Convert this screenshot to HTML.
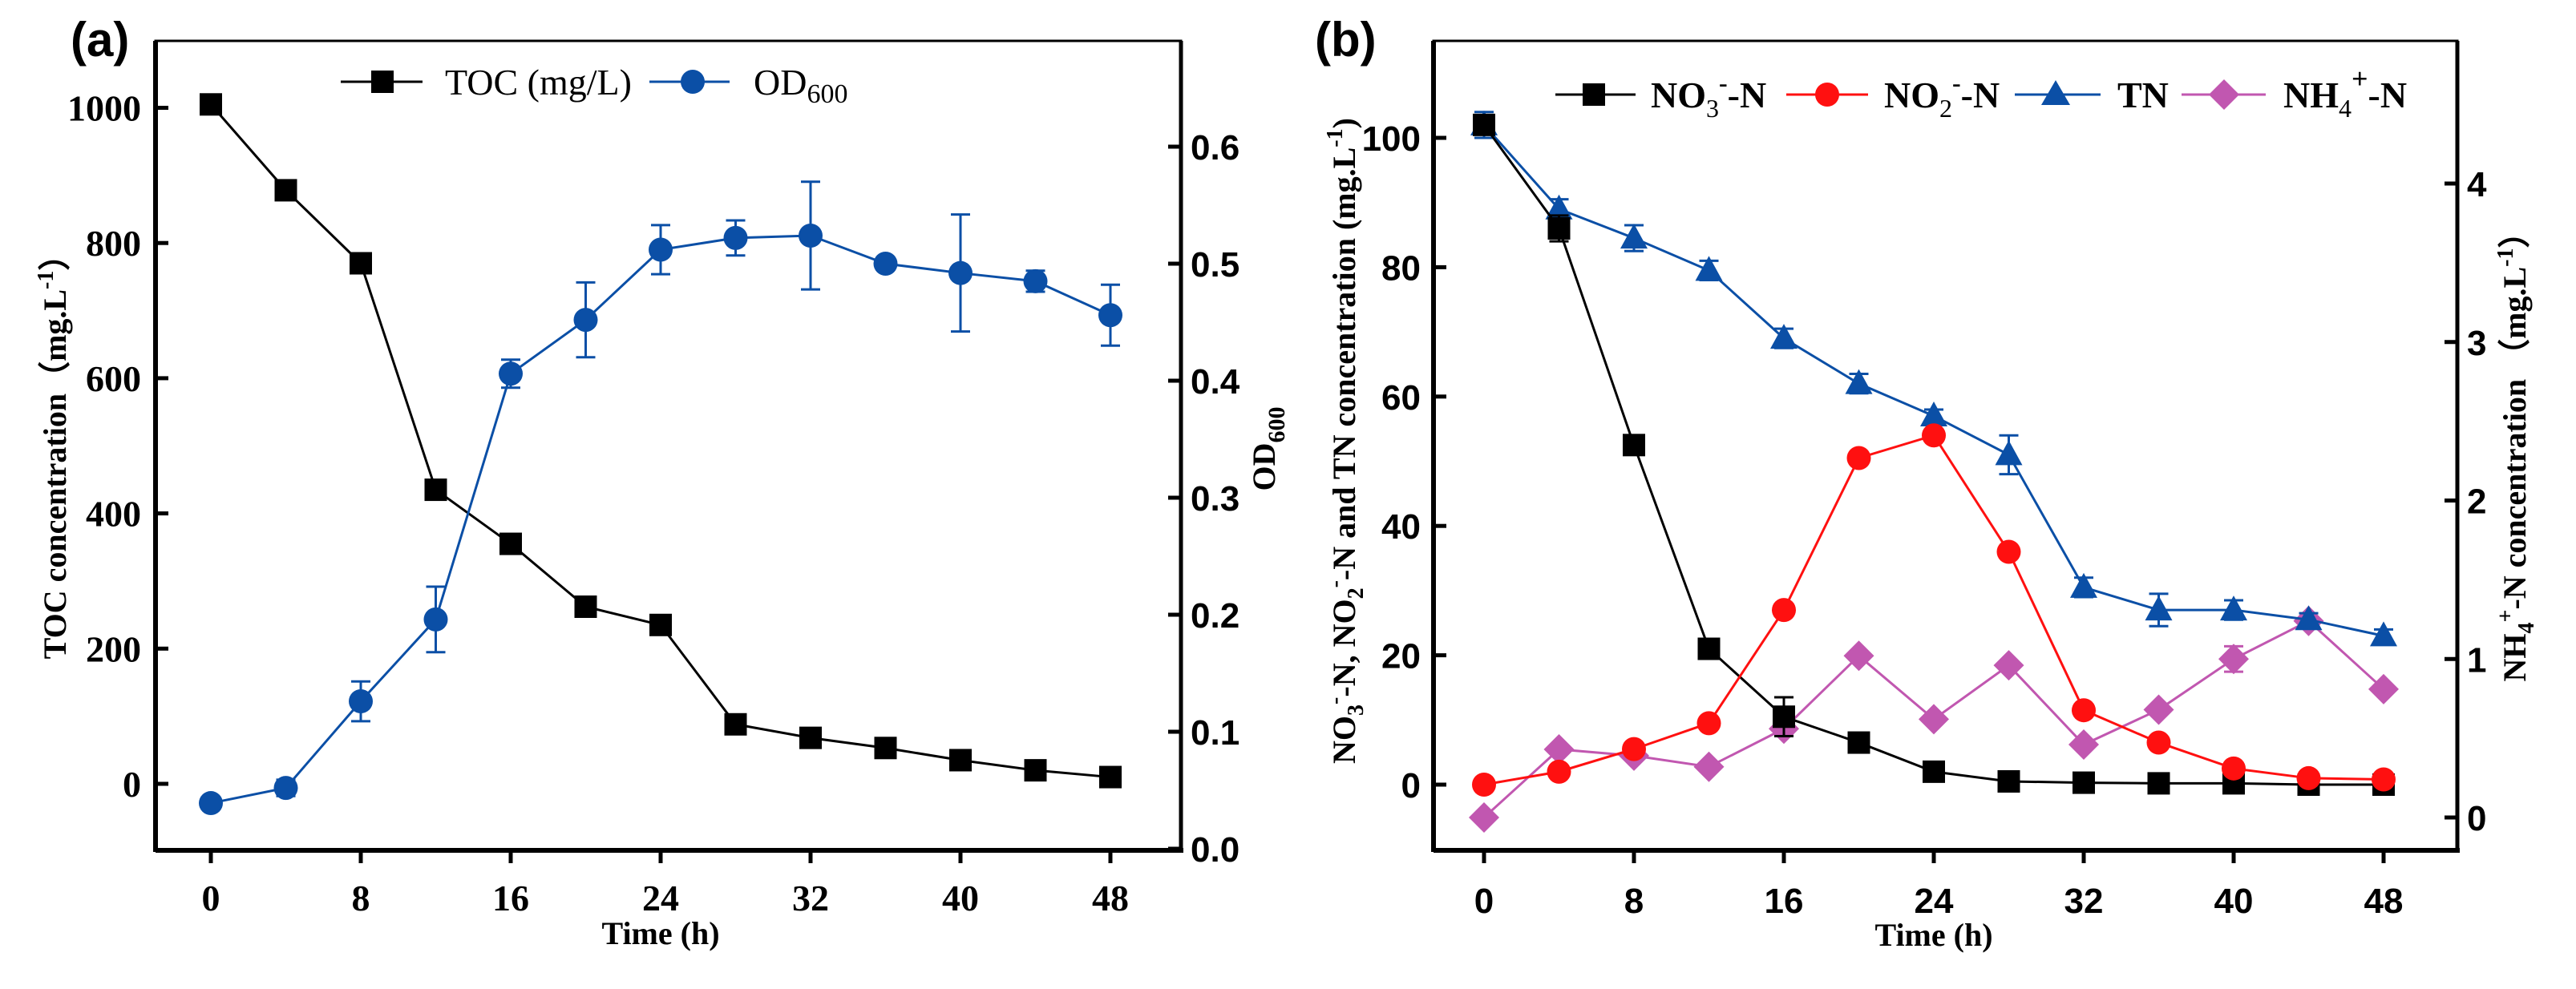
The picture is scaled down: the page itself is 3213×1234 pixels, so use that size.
<!DOCTYPE html>
<html><head><meta charset="utf-8">
<style>
html,body{margin:0;padding:0;background:#fff;}
svg{display:block;}
.tk{font-family:"Liberation Serif",serif;font-weight:bold;font-size:46px;}
.tks{font-family:"Liberation Sans",sans-serif;font-weight:bold;font-size:44px;}
.ttl{font-family:"Liberation Serif",serif;font-weight:bold;font-size:40px;}
.leg{font-family:"Liberation Serif",serif;font-size:46px;}
.legb{font-family:"Liberation Serif",serif;font-weight:bold;font-size:46px;}
.pl{font-family:"Liberation Sans",sans-serif;font-weight:bold;font-size:60px;}
</style></head>
<body>
<svg id="c" width="3213" height="1234" viewBox="0 0 3213 1234" xmlns="http://www.w3.org/2000/svg">
<g id="pa"></g>
<g id="pb"></g>
</svg>
<script>
const times = [0,4,8,12,16,20,24,28,32,36,40,44,48];
const xTicks = [0,8,16,24,32,40,48];
const tocVals = [1005,878,770,435,355,262,235,88,68,53,35,20,10];
const odVals = [0.039,0.052,0.126,0.196,0.406,0.452,0.512,0.522,0.524,0.500,0.492,0.485,0.456];
const odErr = [0,0.007,0.017,0.028,0.012,0.032,0.021,0.015,0.046,0,0.05,0.009,0.026];
const tocTicks = [0,200,400,600,800,1000];
const odTicks = [0.0,0.1,0.2,0.3,0.4,0.5,0.6];
const no3Vals = [102,86,52.5,21,10.5,6.5,2,0.5,0.3,0.2,0.2,0,0];
const no3Err = [0,2,0,0,3,0,0,0,0,0,0,0,0];
const no2Vals = [0,2,5.5,9.5,27,50.5,54,36,11.5,6.5,2.5,1,0.8];
const tnVals = [102,89,84.5,79.5,69,62,57,51,30.5,27,27,25.5,23];
const tnErr = [2,1.5,2,1.5,1.5,1.5,1,3,1.5,2.5,1.5,1,1];
const nh4Vals = [0,0.43,0.39,0.32,0.56,1.02,0.62,0.96,0.46,0.68,1.0,1.24,0.81];
const nh4Err = [0,0,0,0,0.04,0,0,0,0,0,0.08,0,0];
const nTicks = [0,20,40,60,80,100];
const nh4Ticks = [0,1,2,3,4];

const NS="http://www.w3.org/2000/svg";
function mk(parent,tag,attrs,text){const e=document.createElementNS(NS,tag);for(const k in attrs)e.setAttribute(k,attrs[k]);if(text!==undefined)e.textContent=text;parent.appendChild(e);return e;}

// ---------- Panel A ----------
const A=document.getElementById('pa');
const aL=194,aR=1473,aT=51,aB=1061;
const axA=t=>263+t*(1385-263)/48;
const ayT=v=>978-v*0.8435;
const ayO=v=>1059-v*1460;
let e;
e=mk(A,'rect',{x:aL,y:aT,width:aR-aL,height:aB-aT,fill:'none',stroke:'#000','stroke-width':3});

mk(A,'line',{x1:aL,y1:aT,x2:aL,y2:aB+2,stroke:'#000','stroke-width':6});
mk(A,'line',{x1:aL,y1:aB,x2:aR+3,y2:aB,stroke:'#000','stroke-width':6});
mk(A,'line',{x1:aR,y1:aT,x2:aR,y2:aB,stroke:'#000','stroke-width':5});
xTicks.forEach(t=>{
  mk(A,'line',{x1:axA(t),y1:aB,x2:axA(t),y2:aB+16,stroke:'#000','stroke-width':5});
  e=mk(A,'text',{x:axA(t),y:aB+75,'text-anchor':'middle',class:'tk'},t);
  
});
tocTicks.forEach(v=>{
  mk(A,'line',{x1:aL,y1:ayT(v),x2:aL+16,y2:ayT(v),stroke:'#000','stroke-width':5});
  e=mk(A,'text',{x:aL-18,y:ayT(v)+16,'text-anchor':'end',class:'tk'},v);
  
});
odTicks.forEach(v=>{
  mk(A,'line',{x1:aR-16,y1:ayO(v),x2:aR,y2:ayO(v),stroke:'#000','stroke-width':5});
  e=mk(A,'text',{x:aR+12,y:ayO(v)+16,'text-anchor':'start',class:'tks'},v.toFixed(1));
  
});
e=mk(A,'text',{x:824,y:1178,'text-anchor':'middle',class:'ttl'},'Time (h)');

e=mk(A,'text',{x:0,y:0,'text-anchor':'middle',class:'ttl',transform:'translate(82,560) rotate(-90)'},'TOC concentration（mg.L');

mk(e,'tspan',{dy:-16,'font-size':28},'-1');
mk(e,'tspan',{dy:16},'）');
e=mk(A,'text',{x:0,y:0,'text-anchor':'middle',class:'ttl',transform:'translate(1590,560) rotate(-90)'},'OD');

mk(e,'tspan',{dy:12,'font-size':30},'600');
e=mk(A,'text',{x:88,y:70,class:'pl'},'(a)');

// TOC series
e=mk(A,'polyline',{points:times.map((t,i)=>axA(t)+','+ayT(tocVals[i])).join(' '),fill:'none',stroke:'#000','stroke-width':3});

times.forEach((t,i)=>{
  e=mk(A,'rect',{x:axA(t)-14,y:ayT(tocVals[i])-14,width:28,height:28,fill:'#000'});
  
});
// OD series
const blue='#0b4fa6';
e=mk(A,'polyline',{points:times.map((t,i)=>axA(t)+','+ayO(odVals[i])).join(' '),fill:'none',stroke:blue,'stroke-width':3});

times.forEach((t,i)=>{
  const x=axA(t),y=ayO(odVals[i]),d=odErr[i]*1460;
  if(d>0){
    mk(A,'line',{x1:x,y1:y-d,x2:x,y2:y+d,stroke:blue,'stroke-width':3});
    mk(A,'line',{x1:x-12,y1:y-d,x2:x+12,y2:y-d,stroke:blue,'stroke-width':3});
    mk(A,'line',{x1:x-12,y1:y+d,x2:x+12,y2:y+d,stroke:blue,'stroke-width':3});
  }
  e=mk(A,'circle',{cx:x,cy:y,r:15,fill:blue});
  
});
// legend A
const lgA=mk(A,'g',{});

mk(lgA,'line',{x1:425,y1:102,x2:527,y2:102,stroke:'#000','stroke-width':3});
mk(lgA,'rect',{x:463,y:88,width:28,height:28,fill:'#000'});
mk(lgA,'text',{x:555,y:118,class:'leg'},'TOC (mg/L)');
mk(lgA,'line',{x1:810,y1:102,x2:910,y2:102,stroke:blue,'stroke-width':3});
mk(lgA,'circle',{cx:864,cy:102,r:15,fill:blue});
e=mk(lgA,'text',{x:940,y:118,class:'leg'},'OD');
mk(e,'tspan',{dy:10,'font-size':34},'600');

// ---------- Panel B ----------
const B=document.getElementById('pb');
const bL=1788,bR=3065,bT=51,bB=1061;
const bx=t=>1851+t*(2973-1851)/48;
const byN=v=>979-v*8.07;
const byH=v=>1020-v*197.75;
e=mk(B,'rect',{x:bL,y:bT,width:bR-bL,height:bB-bT,fill:'none',stroke:'#000','stroke-width':3});

mk(B,'line',{x1:bL,y1:bT,x2:bL,y2:bB+2,stroke:'#000','stroke-width':6});
mk(B,'line',{x1:bL,y1:bB,x2:bR+3,y2:bB,stroke:'#000','stroke-width':6});
mk(B,'line',{x1:bR,y1:bT,x2:bR,y2:bB,stroke:'#000','stroke-width':5});
xTicks.forEach(t=>{
  mk(B,'line',{x1:bx(t),y1:bB,x2:bx(t),y2:bB+16,stroke:'#000','stroke-width':5});
  e=mk(B,'text',{x:bx(t),y:bB+78,'text-anchor':'middle',class:'tks'},t);
  
});
nTicks.forEach(v=>{
  mk(B,'line',{x1:bL,y1:byN(v),x2:bL+16,y2:byN(v),stroke:'#000','stroke-width':5});
  e=mk(B,'text',{x:bL-16,y:byN(v)+16,'text-anchor':'end',class:'tks'},v);
  
});
nh4Ticks.forEach(v=>{
  mk(B,'line',{x1:bR-16,y1:byH(v),x2:bR,y2:byH(v),stroke:'#000','stroke-width':5});
  e=mk(B,'text',{x:bR+12,y:byH(v)+16,'text-anchor':'start',class:'tks'},v);
  
});
e=mk(B,'text',{x:2412,y:1180,'text-anchor':'middle',class:'ttl'},'Time (h)');

e=mk(B,'text',{x:0,y:0,'text-anchor':'middle',class:'ttl',transform:'translate(1690,550) rotate(-90)'});

e.innerHTML='NO<tspan dy="10" font-size="28">3</tspan><tspan dy="-26" font-size="28">-</tspan><tspan dy="16">-N, NO</tspan><tspan dy="10" font-size="28">2</tspan><tspan dy="-26" font-size="28">-</tspan><tspan dy="16">-N and TN concentration (mg.L</tspan><tspan dy="-16" font-size="28">-1</tspan><tspan dy="16">)</tspan>';
e=mk(B,'text',{x:0,y:0,'text-anchor':'middle',class:'ttl',transform:'translate(3150,560) rotate(-90)'});

e.innerHTML='NH<tspan dy="10" font-size="28">4</tspan><tspan dy="-26" font-size="28">+</tspan><tspan dy="16">-N concentration （mg.L</tspan><tspan dy="-16" font-size="28">-1</tspan><tspan dy="16">）</tspan>';
e=mk(B,'text',{x:1640,y:70,class:'pl'},'(b)');


function errbar(g,x,y,d,col){
  if(d<=0)return;
  mk(g,'line',{x1:x,y1:y-d,x2:x,y2:y+d,stroke:col,'stroke-width':3});
  mk(g,'line',{x1:x-12,y1:y-d,x2:x+12,y2:y-d,stroke:col,'stroke-width':3});
  mk(g,'line',{x1:x-12,y1:y+d,x2:x+12,y2:y+d,stroke:col,'stroke-width':3});
}
// NH4
const pink='#c157b0';
e=mk(B,'polyline',{points:times.map((t,i)=>bx(t)+','+byH(nh4Vals[i])).join(' '),fill:'none',stroke:pink,'stroke-width':3});

times.forEach((t,i)=>{
  const x=bx(t),y=byH(nh4Vals[i]);
  errbar(B,x,y,nh4Err[i]*197.75,pink);
  e=mk(B,'polygon',{points:`${x},${y-19} ${x+19},${y} ${x},${y+19} ${x-19},${y}`,fill:pink});
  
});
// TN
const tblue='#0b4fa6';
e=mk(B,'polyline',{points:times.map((t,i)=>bx(t)+','+byN(tnVals[i])).join(' '),fill:'none',stroke:tblue,'stroke-width':3});

times.forEach((t,i)=>{
  const x=bx(t),y=byN(tnVals[i]);
  errbar(B,x,y,tnErr[i]*8.07,tblue);
  e=mk(B,'polygon',{points:`${x},${y-18} ${x+17},${y+13} ${x-17},${y+13}`,fill:tblue});
  
});
// NO3
e=mk(B,'polyline',{points:times.map((t,i)=>bx(t)+','+byN(no3Vals[i])).join(' '),fill:'none',stroke:'#000','stroke-width':3});

times.forEach((t,i)=>{
  const x=bx(t),y=byN(no3Vals[i]);
  errbar(B,x,y,no3Err[i]*8.07,'#000');
  e=mk(B,'rect',{x:x-14,y:y-14,width:28,height:28,fill:'#000'});
  
});
// NO2
const red='#ff1010';
e=mk(B,'polyline',{points:times.map((t,i)=>bx(t)+','+byN(no2Vals[i])).join(' '),fill:'none',stroke:red,'stroke-width':3});

times.forEach((t,i)=>{
  e=mk(B,'circle',{cx:bx(t),cy:byN(no2Vals[i]),r:15,fill:red});
  
});
// legend B
const lgB=mk(B,'g',{});

mk(lgB,'line',{x1:1940,y1:118,x2:2040,y2:118,stroke:'#000','stroke-width':3});
mk(lgB,'rect',{x:1974,y:104,width:28,height:28,fill:'#000'});
e=mk(lgB,'text',{x:2059,y:134,class:'legb'});
e.innerHTML='NO<tspan dy="12" font-size="32" font-weight="normal">3</tspan><tspan dy="-32" font-size="32">-</tspan><tspan dy="20">-N</tspan>';
mk(lgB,'line',{x1:2228,y1:118,x2:2330,y2:118,stroke:red,'stroke-width':3});
mk(lgB,'circle',{cx:2279,cy:118,r:15,fill:red});
e=mk(lgB,'text',{x:2350,y:134,class:'legb'});
e.innerHTML='NO<tspan dy="12" font-size="32" font-weight="normal">2</tspan><tspan dy="-32" font-size="32">-</tspan><tspan dy="20">-N</tspan>';
mk(lgB,'line',{x1:2513,y1:118,x2:2620,y2:118,stroke:tblue,'stroke-width':3});
mk(lgB,'polygon',{points:'2564,100 2582,131 2546,131',fill:tblue});
mk(lgB,'text',{x:2641,y:134,class:'legb'},'TN');
mk(lgB,'line',{x1:2721,y1:118,x2:2826,y2:118,stroke:pink,'stroke-width':3});
mk(lgB,'polygon',{points:'2774,99 2793,118 2774,137 2755,118',fill:pink});
e=mk(lgB,'text',{x:2848,y:134,class:'legb'});
e.innerHTML='NH<tspan dy="12" font-size="32" font-weight="normal">4</tspan><tspan dy="-36" font-size="36">+</tspan><tspan dy="24">-N</tspan>';
</script>
</body></html>
